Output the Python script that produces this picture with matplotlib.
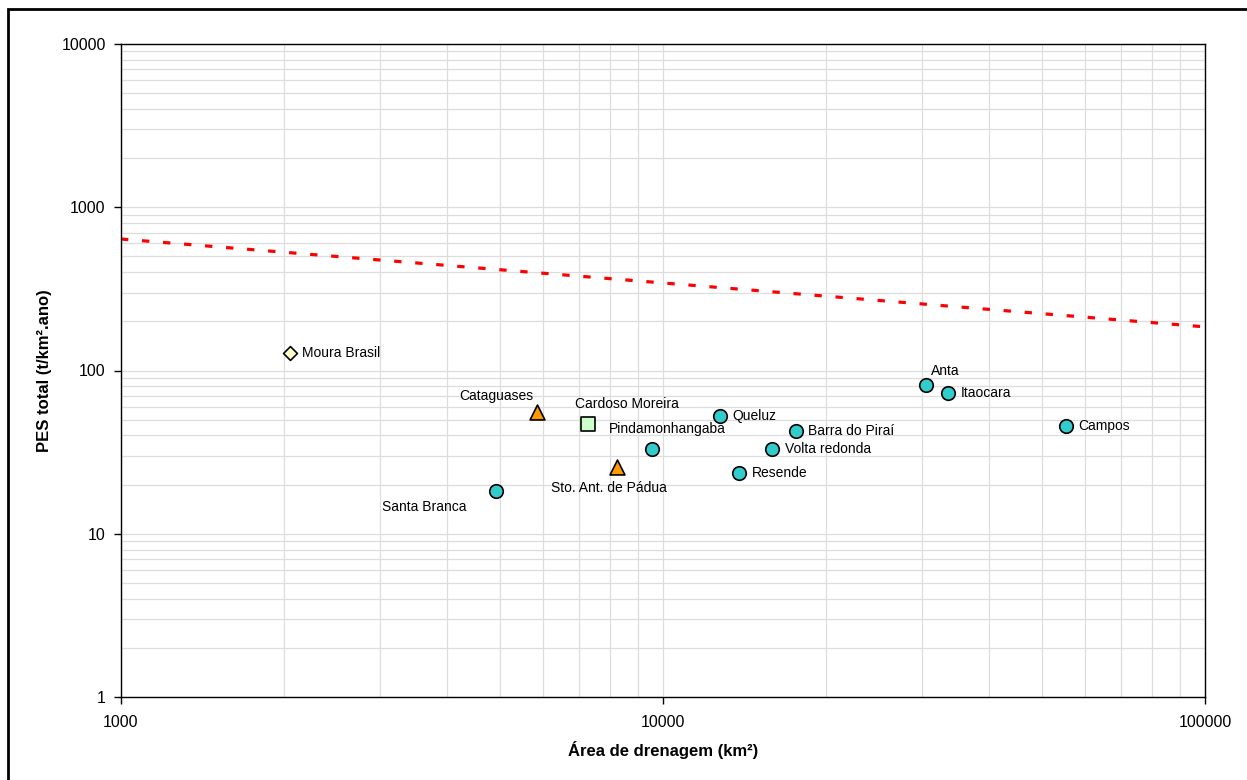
import matplotlib.pyplot as plt
from matplotlib.patches import Rectangle

plt.rcParams['font.family'] = ['Liberation Sans', 'DejaVu Sans']

# stations by group (drainage area km2, PES t/km2.ano)
circ_names = ["Santa Branca", "Pindamonhangaba", "Queluz", "Resende", "Volta redonda",
              "Barra do Piraí", "Anta", "Itaocara", "Campos"]
circ_area = [4920, 9540, 12740, 13810, 15890, 17600, 30570, 33570, 55400]
circ_pes = [18.2, 33.0, 52.5, 23.6, 33.0, 42.5, 81.5, 72.5, 46.0]

tri_names = ["Cataguases", "Sto. Ant. de Pádua"]
tri_area = [5860, 8230]
tri_pes = [55.7, 25.6]

sq_names = ["Cardoso Moreira"]
sq_area = [7270]
sq_pes = [47.0]

dia_names = ["Moura Brasil"]
dia_area = [2050]
dia_pes = [128]

# envelope line (end points)
env_area = [1000, 100000]
env_pes = [639, 185]

fig = plt.figure(figsize=(12.47, 7.8), dpi=100)
ax = fig.add_axes([121 / 1247, 1 - 697 / 780, (1205 - 121) / 1247, (697 - 44) / 780])
ax.set_xscale('log')
ax.set_yscale('log')
ax.set_xlim(1000, 100000)
ax.set_ylim(1, 10000)

ax.grid(True, which='both', color='#dddddd', linewidth=0.9)
ax.set_axisbelow(True)
ax.tick_params(which='minor', length=0)
ax.tick_params(which='major', length=5, width=1, labelsize=11.5, direction='out', colors='black')
ax.set_xticks([1000, 10000, 100000])
ax.set_xticklabels(["1000", "10000", "100000"])
ax.set_yticks([1, 10, 100, 1000, 10000])
ax.set_yticklabels(["1", "10", "100", "1000", "10000"])
ax.tick_params(axis='x', pad=8)
ax.tick_params(axis='y', pad=6)
for s in ax.spines.values():
    s.set_color('black')
    s.set_linewidth(1.0)

ax.plot(env_area, env_pes, color='#ff0000', linewidth=2.3, linestyle=(0, (2.3, 4.3)),
        dash_capstyle='butt', zorder=2, clip_on=False)

ax.scatter(circ_area, circ_pes, s=95, marker='o', facecolor='#33cccc', edgecolor='black',
           linewidth=1.2, zorder=3)
ax.scatter(tri_area, tri_pes, s=115, marker='^', facecolor='#ff9900', edgecolor='black',
           linewidth=1.2, zorder=3)
ax.scatter(sq_area, sq_pes, s=100, marker='s', facecolor='#ccffcc', edgecolor='black',
           linewidth=1.2, zorder=3)
ax.scatter(dia_area, dia_pes, s=50, marker='D', facecolor='#ffffcc', edgecolor='black',
           linewidth=1.2, zorder=3)

# label offsets in points
offsets = {
    "Santa Branca": (-21, -11.5, 'right'),
    "Pindamonhangaba": (-31, 14.4, 'left'),
    "Queluz": (8.6, 0, 'left'),
    "Resende": (9, 0, 'left'),
    "Volta redonda": (9, 0, 'left'),
    "Barra do Piraí": (8.6, 0, 'left'),
    "Anta": (3.6, 10, 'left'),
    "Itaocara": (9, 0, 'left'),
    "Campos": (8.6, 0, 'left'),
    "Cataguases": (-3, 11.5, 'right'),
    "Sto. Ant. de Pádua": (-47.5, -15, 'left'),
    "Cardoso Moreira": (-9.4, 14.4, 'left'),
    "Moura Brasil": (8.6, 0, 'left'),
}
for names, xs, ys in [(circ_names, circ_area, circ_pes), (tri_names, tri_area, tri_pes),
                      (sq_names, sq_area, sq_pes), (dia_names, dia_area, dia_pes)]:
    for n, x, y in zip(names, xs, ys):
        dx, dy, ha = offsets[n]
        ax.annotate(n, (x, y), xytext=(dx, dy), textcoords='offset points',
                    ha=ha, va='center', fontsize=10, zorder=4)

ax.set_xlabel("Área de drenagem (km²)", fontsize=12, fontweight='bold', va='center')
ax.set_ylabel("PES total (t/km².ano)", fontsize=12, fontweight='bold', va='center')
ax.xaxis.set_label_coords(0.5, -(750 - 697) / 653)
ax.yaxis.set_label_coords(-(121 - 45) / 1084, 0.5)

# outer frame
fig.patches.append(Rectangle((8 / 1247, -0.05), 1.2, 1 - 9 / 780 + 0.05, transform=fig.transFigure,
                             fill=False, edgecolor='black', linewidth=2))

fig.savefig('out.png', dpi=100)
